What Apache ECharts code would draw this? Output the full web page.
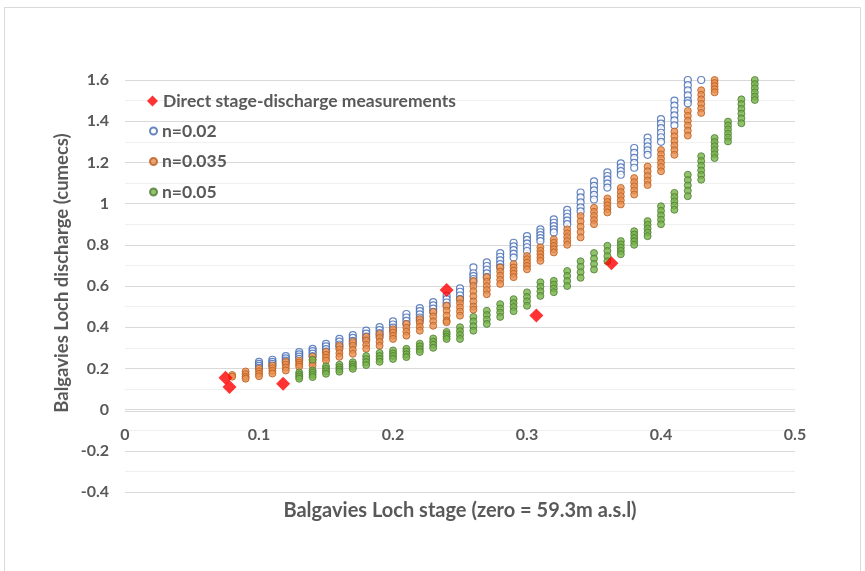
<!DOCTYPE html>
<html>
<head>
<meta charset="utf-8">
<script src="https://cdn.jsdelivr.net/npm/echarts@6/dist/echarts.min.js"></script>
<style>
  html, body { margin: 0; padding: 0; background: #fff; }
  #main { width: 865px; height: 571px; }
</style>
</head>
<body>
<div id="main"></div>
<script>
// stage (m) and discharge (cumecs), one column per stage
var measStage = [0.075, 0.078, 0.118, 0.240, 0.307, 0.363];
var measFlow  = [0.155, 0.110, 0.125, 0.580, 0.457, 0.710];

var stage002 = [0.10, 0.11, 0.12, 0.13, 0.14, 0.15, 0.16, 0.17, 0.18, 0.19, 0.20, 0.21, 0.22, 0.23, 0.24, 0.25, 0.26,
                0.27, 0.28, 0.29, 0.30, 0.31, 0.32, 0.33, 0.34, 0.35, 0.36, 0.37, 0.38, 0.39, 0.40, 0.41, 0.42, 0.43];
var flow002 = [
  [0.232, 0.222, 0.212, 0.203],
  [0.242, 0.232, 0.222, 0.212],
  [0.260, 0.249, 0.238, 0.228],
  [0.279, 0.268, 0.257, 0.246],
  [0.295, 0.284, 0.272, 0.260],
  [0.319, 0.307, 0.294, 0.282],
  [0.343, 0.330, 0.316, 0.303],
  [0.362, 0.348, 0.334, 0.320],
  [0.383, 0.369, 0.354, 0.340],
  [0.400, 0.386, 0.371, 0.357],
  [0.428, 0.413, 0.398, 0.383],
  [0.464, 0.447, 0.431, 0.415],
  [0.493, 0.478, 0.462, 0.447, 0.432],
  [0.522, 0.506, 0.490, 0.474],
  [0.552, 0.536, 0.520, 0.504],
  [0.588, 0.572, 0.554, 0.536],
  [0.690, 0.662, 0.648, 0.634, 0.620],
  [0.715, 0.697, 0.679, 0.661, 0.643],
  [0.760, 0.742, 0.724, 0.706, 0.690],
  [0.810, 0.792, 0.774, 0.756, 0.738],
  [0.842, 0.824, 0.806, 0.788, 0.770],
  [0.875, 0.861, 0.847, 0.832, 0.818],
  [0.923, 0.907, 0.891, 0.875, 0.860],
  [0.970, 0.952, 0.935, 0.917, 0.900],
  [1.054, 1.030, 1.006, 0.982, 0.962],
  [1.108, 1.086, 1.064, 1.042, 1.020],
  [1.152, 1.134, 1.116, 1.097, 1.078],
  [1.195, 1.176, 1.158, 1.140],
  [1.270, 1.246, 1.222, 1.198, 1.174],
  [1.320, 1.299, 1.278, 1.258, 1.237],
  [1.410, 1.388, 1.366, 1.344, 1.322, 1.300],
  [1.500, 1.476, 1.452, 1.428, 1.404, 1.380],
  [1.600, 1.575, 1.550, 1.525, 1.500, 1.487],
  [1.600]
];

var stage0035 = [0.08, 0.09, 0.10, 0.11, 0.12, 0.13, 0.14, 0.15, 0.16, 0.17, 0.18, 0.19, 0.20, 0.21, 0.22, 0.23, 0.24, 0.25, 0.26,
                 0.27, 0.28, 0.29, 0.30, 0.31, 0.32, 0.33, 0.34, 0.35, 0.36, 0.37, 0.38, 0.39, 0.40, 0.41, 0.42, 0.43, 0.44];
var flow0035 = [
  [0.168, 0.160],
  [0.185, 0.172, 0.159, 0.150],
  [0.198, 0.186, 0.174, 0.162],
  [0.214, 0.201, 0.188, 0.175],
  [0.232, 0.218, 0.204, 0.190],
  [0.238, 0.228, 0.218, 0.208],
  [0.256, 0.242, 0.228, 0.214],
  [0.280, 0.266, 0.252, 0.238],
  [0.310, 0.292, 0.274, 0.256],
  [0.329, 0.310, 0.290, 0.271],
  [0.353, 0.334, 0.314, 0.295],
  [0.367, 0.348, 0.329, 0.310],
  [0.390, 0.374, 0.358, 0.343],
  [0.416, 0.397, 0.378, 0.359],
  [0.440, 0.421, 0.402, 0.383],
  [0.474, 0.452, 0.429, 0.407],
  [0.504, 0.480, 0.456, 0.432, 0.424],
  [0.536, 0.516, 0.496, 0.476, 0.456],
  [0.625, 0.600, 0.575, 0.550, 0.525, 0.500, 0.485],
  [0.643, 0.621, 0.600, 0.580, 0.560],
  [0.690, 0.670, 0.650, 0.630, 0.610],
  [0.706, 0.690, 0.674, 0.659, 0.643],
  [0.746, 0.730, 0.713, 0.697, 0.681],
  [0.788, 0.771, 0.755, 0.738, 0.722],
  [0.826, 0.810, 0.794, 0.778, 0.763],
  [0.875, 0.856, 0.837, 0.818, 0.800],
  [0.940, 0.914, 0.888, 0.862, 0.836],
  [0.980, 0.960, 0.940, 0.920, 0.900],
  [1.025, 1.008, 0.991, 0.974, 0.957],
  [1.076, 1.056, 1.036, 1.016, 0.996],
  [1.124, 1.104, 1.084, 1.064, 1.044],
  [1.180, 1.157, 1.134, 1.112, 1.090],
  [1.260, 1.239, 1.218, 1.198, 1.178, 1.157],
  [1.350, 1.327, 1.304, 1.282, 1.260, 1.237],
  [1.450, 1.426, 1.402, 1.378, 1.354, 1.330],
  [1.550, 1.528, 1.506, 1.484, 1.462, 1.440],
  [1.600, 1.585, 1.570, 1.555, 1.540]
];

var stage005 = [0.13, 0.14, 0.15, 0.16, 0.17, 0.18, 0.19, 0.20, 0.21, 0.22, 0.23, 0.24, 0.25, 0.26, 0.27, 0.28, 0.29, 0.30,
                0.31, 0.32, 0.33, 0.34, 0.35, 0.36, 0.37, 0.38, 0.39, 0.40, 0.41, 0.42, 0.43, 0.44, 0.45, 0.46, 0.47];
var flow005 = [
  [0.180, 0.170, 0.160, 0.150],
  [0.242, 0.190, 0.180, 0.169, 0.158],
  [0.210, 0.198, 0.186, 0.174],
  [0.218, 0.206, 0.195, 0.184],
  [0.230, 0.219, 0.208, 0.198],
  [0.260, 0.245, 0.230, 0.216],
  [0.275, 0.260, 0.246, 0.232],
  [0.287, 0.273, 0.260, 0.246],
  [0.295, 0.282, 0.268, 0.255],
  [0.320, 0.307, 0.293, 0.280],
  [0.345, 0.330, 0.315, 0.300],
  [0.377, 0.366, 0.354, 0.343],
  [0.400, 0.381, 0.362, 0.343],
  [0.450, 0.428, 0.405, 0.383],
  [0.480, 0.459, 0.437, 0.416],
  [0.512, 0.491, 0.471, 0.450],
  [0.536, 0.517, 0.498, 0.478],
  [0.569, 0.547, 0.526, 0.504],
  [0.618, 0.596, 0.574, 0.552],
  [0.625, 0.607, 0.588, 0.570],
  [0.673, 0.649, 0.624, 0.600],
  [0.720, 0.693, 0.667, 0.640],
  [0.760, 0.733, 0.707, 0.680],
  [0.795, 0.770, 0.745, 0.720],
  [0.818, 0.802, 0.786, 0.770, 0.754],
  [0.866, 0.850, 0.833, 0.817, 0.800],
  [0.915, 0.897, 0.878, 0.860, 0.842],
  [0.987, 0.965, 0.943, 0.922, 0.900],
  [1.052, 1.032, 1.011, 0.991, 0.970],
  [1.140, 1.114, 1.088, 1.062, 1.036],
  [1.230, 1.207, 1.184, 1.161, 1.139, 1.116],
  [1.318, 1.299, 1.279, 1.260, 1.240, 1.221],
  [1.398, 1.379, 1.360, 1.340, 1.321, 1.302],
  [1.506, 1.483, 1.460, 1.437, 1.414, 1.390],
  [1.600, 1.580, 1.560, 1.540, 1.520, 1.503]
];

function pairs(stages, flows) {
    var out = [];
    for (var i = 0; i < stages.length; i++) {
        for (var j = 0; j < flows[i].length; j++) {
            out.push([stages[i], flows[i][j]]);
        }
    }
    return out;
}
var measData = [];
for (var k = 0; k < measStage.length; k++) {
    measData.push([measStage[k], measFlow[k]]);
}

var FONT = 'Lato';
var GREY = '#595959';
var legendText = { color: GREY, fontFamily: FONT, fontWeight: 'bold', fontSize: 17.5 };

var myChart = echarts.init(document.getElementById('main'));
var option = {
    backgroundColor: '#fff',
    animation: false,
    grid: { left: 125, right: 70, top: 80, bottom: 79 },
    legend: [
        {
            // the red diamond gets a bigger key than the circles
            orient: 'vertical',
            left: 142,
            top: 87,
            itemWidth: 11,
            itemHeight: 11,
            itemGap: 13,
            data: ['Direct stage-discharge measurements'],
            textStyle: legendText
        },
        {
            orient: 'vertical',
            left: 144,
            top: 117,
            itemWidth: 7,
            itemHeight: 7,
            itemGap: 12.5,
            data: ['n=0.02', 'n=0.035', 'n=0.05'],
            textStyle: legendText
        }
    ],
    xAxis: {
        type: 'value',
        min: 0,
        max: 0.5,
        interval: 0.1,
        offset: -81,   // sit the labels under the zero line like the original
        axisLine: { onZero: false, lineStyle: { color: '#d9d9d9' } },
        axisTick: { show: false },
        splitLine: { show: false },
        axisLabel: { color: GREY, fontFamily: FONT, fontWeight: 'bold', fontSize: 16, margin: 16 }
    },
    yAxis: {
        type: 'value',
        min: -0.4,
        max: 1.6,
        interval: 0.2,
        axisLine: { show: false },
        axisTick: { show: false },
        minorTick: { show: false, splitNumber: 2 },
        splitLine: { lineStyle: { color: '#d9d9d9' } },
        minorSplitLine: { show: true, lineStyle: { color: '#f0f0f0' } },
        axisLabel: { color: GREY, fontFamily: FONT, fontWeight: 'bold', fontSize: 16, margin: 16 }
    },
    series: [
        {
            name: 'n=0.02',
            type: 'scatter',
            symbol: 'circle',
            symbolSize: 7,
            itemStyle: { color: '#fff', borderColor: '#3E67B1', borderWidth: 1.2 },
            data: pairs(stage002, flow002)
        },
        {
            name: 'n=0.035',
            type: 'scatter',
            symbol: 'circle',
            symbolSize: 7,
            itemStyle: { color: '#E88F4F', borderColor: '#B85C1E', borderWidth: 1 },
            data: pairs(stage0035, flow0035)
        },
        {
            name: 'n=0.05',
            type: 'scatter',
            symbol: 'circle',
            symbolSize: 7,
            itemStyle: { color: '#76B347', borderColor: '#4F7A33', borderWidth: 1 },
            data: pairs(stage005, flow005)
        },
        {
            name: 'Direct stage-discharge measurements',
            type: 'scatter',
            symbol: 'diamond',
            symbolSize: 14,
            itemStyle: { color: '#FF0000' },
            data: measData
        }
    ],
    graphic: [
        {
            type: 'rect',
            silent: true,
            shape: { x: 4.5, y: 7.5, width: 856, height: 570 },
            style: { fill: 'none', stroke: '#d9d9d9', lineWidth: 1 }
        },
        {
            type: 'text',
            x: 460,
            y: 511,
            style: {
                text: 'Balgavies Loch stage (zero = 59.3m a.s.l)',
                fill: GREY, font: 'bold 20px Lato',
                align: 'center', verticalAlign: 'middle'
            }
        },
        {
            type: 'text',
            x: 62,
            y: 273,
            rotation: Math.PI / 2,
            style: {
                text: 'Balgavies Loch discharge (cumecs)',
                fill: GREY, font: 'bold 18.5px Lato',
                align: 'center', verticalAlign: 'middle'
            }
        }
    ]
};
myChart.setOption(option);
</script>
</body>
</html>
